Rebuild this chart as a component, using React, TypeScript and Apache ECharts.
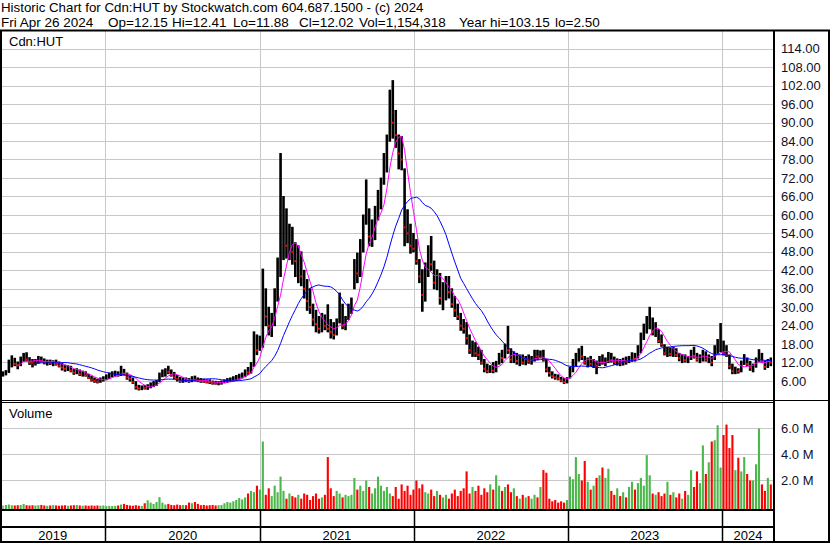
import React, { useEffect, useRef } from "react";
import * as echarts from "echarts";

// ---- Data (weekly bars, Fridays from 2019-05-03 to 2024-04-26) ----
const lows = [
  7.6, 8.0, 8.8, 10.6, 11.0, 10.0, 11.0, 12.4, 12.5, 11.4,
  10.6, 11.2, 11.8, 12.2, 11.6, 11.2, 11.4, 11.0, 11.2, 10.6,
  9.6, 9.2, 9.4, 9.0, 8.2, 8.4, 7.8, 7.6, 7.6, 6.8,
  6.0, 5.6, 5.4, 5.6, 6.0, 6.4, 6.8, 7.4, 7.6, 7.6,
  7.8, 8.0, 6.6, 6.0, 5.2, 3.4, 3.1, 3.2, 3.4, 3.3,
  3.8, 4.2, 4.6, 5.8, 7.4, 7.6, 8.4, 7.6, 6.8, 6.0,
  5.6, 5.6, 5.8, 5.6, 5.8, 6.0, 5.8, 5.6, 5.6, 5.4,
  5.2, 5.0, 5.0, 4.8, 5.0, 5.4, 5.6, 5.8, 6.0, 6.2,
  6.6, 7.0, 7.4, 8.2, 8.6, 10.8, 14.6, 16.0, 17.0, 24.0,
  21.0, 20.5, 24.0, 32.0, 40.0, 45.5, 46.0, 45.5, 44.0, 40.0,
  38.0, 37.0, 33.0, 29.0, 28.0, 24.0, 22.0, 21.6, 22.0, 22.7,
  22.0, 20.0, 19.7, 21.0, 24.9, 23.0, 22.7, 26.0, 28.0, 36.0,
  38.0, 40.0, 48.0, 57.0, 50.0, 49.8, 52.0, 58.4, 62.0, 70.0,
  74.0, 84.0, 85.0, 82.0, 75.0, 74.7, 50.0, 51.0, 47.6, 48.0,
  44.0, 38.0, 28.7, 32.0, 40.0, 42.0, 36.0, 35.7, 31.0, 29.2,
  32.4, 33.0, 30.0, 27.0, 26.0, 22.5, 21.6, 18.0, 15.0, 14.0,
  14.0, 13.0, 11.5, 9.0, 8.7, 8.8, 8.7, 9.0, 11.5, 12.0,
  13.5, 15.0, 12.0, 12.0, 11.5, 11.0, 11.5, 11.3, 11.8, 11.5,
  12.5, 13.0, 13.5, 12.5, 9.0, 7.6, 7.0, 6.6, 6.4, 5.8,
  5.2, 5.4, 7.0, 9.0, 11.0, 12.5, 13.0, 11.5, 10.6, 11.0,
  10.4, 8.4, 11.0, 11.5, 11.0, 12.0, 12.2, 11.5, 11.2, 11.0,
  11.2, 11.5, 12.0, 12.4, 12.5, 13.5, 15.2, 19.5, 21.6, 23.0,
  21.0, 20.5, 18.5, 17.3, 14.5, 14.0, 14.2, 14.0, 14.0, 12.6,
  12.0, 12.2, 12.0, 13.0, 13.5, 12.5, 12.0, 12.5, 12.5, 12.0,
  11.0, 13.0, 15.0, 15.5, 14.5, 14.0, 10.0, 8.4, 8.4, 8.6,
  9.0, 11.4, 11.0, 9.5, 9.0, 10.5, 12.4, 12.0, 9.8, 10.4,
  11.0,
];

const highs = [
  9.0, 9.4, 12.8, 14.2, 13.4, 12.2, 13.8, 15.0, 15.2, 13.6,
  13.0, 13.0, 14.0, 13.8, 13.2, 12.8, 12.8, 12.6, 12.8, 12.2,
  11.8, 11.2, 11.0, 10.8, 9.8, 10.0, 9.6, 9.2, 9.0, 8.2,
  7.6, 7.0, 6.6, 7.0, 7.4, 8.0, 8.6, 9.0, 9.2, 9.0,
  10.8, 9.8, 8.6, 7.6, 7.0, 5.8, 4.6, 4.4, 4.6, 4.8,
  5.4, 5.8, 6.2, 8.6, 9.6, 10.0, 10.8, 9.6, 8.8, 7.8,
  7.2, 7.0, 7.0, 6.8, 7.4, 7.6, 7.0, 6.8, 6.6, 6.4,
  6.4, 6.0, 5.9, 5.8, 6.0, 6.4, 6.8, 7.0, 7.4, 7.8,
  8.2, 8.6, 9.6, 10.4, 12.0, 22.0, 21.0, 20.6, 42.4, 36.0,
  30.0, 28.0, 36.0, 46.0, 80.0, 66.0, 62.0, 57.0, 56.0, 51.0,
  50.0, 48.0, 42.0, 39.0, 36.0, 31.0, 29.0, 27.0, 28.0, 27.5,
  30.8, 26.0, 25.0, 26.2, 34.6, 31.0, 27.0, 31.0, 33.0, 45.5,
  47.6, 52.0, 60.0, 71.4, 62.0, 58.4, 62.8, 68.0, 72.0, 80.0,
  86.0, 100.6, 103.7, 94.0, 86.0, 85.5, 75.0, 61.7, 57.0, 54.0,
  52.0, 45.5, 42.2, 44.4, 50.0, 53.0, 45.0, 42.2, 41.0, 38.0,
  40.0, 40.0, 36.0, 33.5, 31.0, 28.0, 26.0, 25.0, 21.0, 19.0,
  18.5, 17.0, 16.0, 13.0, 11.5, 11.0, 12.0, 12.4, 15.0, 16.0,
  18.0, 23.8, 16.5, 15.5, 15.0, 14.5, 14.5, 14.0, 14.5, 14.0,
  16.0, 16.0, 15.8, 16.0, 13.0, 10.5, 9.0, 8.2, 8.0, 7.2,
  6.8, 7.1, 10.5, 13.0, 15.0, 16.5, 17.3, 14.0, 13.5, 14.0,
  13.0, 12.5, 14.0, 14.5, 13.5, 15.3, 15.0, 13.8, 13.2, 13.0,
  13.4, 13.8, 14.0, 15.2, 15.0, 17.5, 21.6, 24.5, 27.0, 30.0,
  26.5, 25.0, 22.7, 21.0, 17.8, 17.0, 16.8, 17.0, 16.5, 15.0,
  14.6, 14.5, 14.0, 16.0, 17.0, 15.0, 14.5, 16.0, 15.5, 14.5,
  14.0, 17.5, 19.5, 24.7, 19.0, 17.5, 14.5, 11.5, 10.5, 10.0,
  12.5, 14.6, 13.5, 12.4, 11.5, 13.5, 16.2, 15.0, 12.5, 13.0,
  13.5,
];

const closes = [
  8.4, 9.0, 12.0, 12.5, 11.6, 11.2, 13.2, 13.6, 13.0, 12.0,
  11.8, 12.6, 13.2, 12.6, 12.0, 12.2, 11.8, 12.2, 11.6, 11.0,
  10.4, 10.0, 10.6, 9.4, 8.8, 9.2, 8.2, 8.6, 7.9, 7.0,
  6.4, 6.0, 5.8, 6.6, 6.8, 7.4, 7.8, 8.2, 8.6, 8.0,
  9.6, 8.4, 7.2, 6.8, 5.6, 4.0, 3.6, 3.9, 3.8, 4.4,
  4.8, 5.2, 5.8, 8.2, 8.4, 9.2, 9.0, 8.0, 7.2, 6.6,
  6.0, 6.4, 6.2, 6.0, 6.8, 6.4, 6.2, 6.0, 5.9, 5.7,
  5.6, 5.3, 5.2, 5.4, 5.6, 6.0, 6.2, 6.6, 6.8, 7.2,
  7.6, 8.0, 9.2, 8.8, 11.2, 18.0, 16.0, 19.0, 30.0, 27.0,
  24.0, 25.5, 33.0, 42.0, 52.0, 58.0, 50.0, 52.0, 48.0, 45.0,
  47.0, 40.0, 36.0, 32.0, 30.0, 26.0, 24.5, 23.0, 25.0, 24.0,
  23.0, 22.0, 21.0, 25.0, 30.0, 24.0, 25.0, 29.0, 32.0, 43.0,
  41.0, 50.0, 58.0, 60.0, 53.0, 55.0, 60.0, 66.0, 70.0, 76.0,
  84.0, 96.0, 90.0, 86.0, 80.0, 78.0, 56.0, 54.0, 50.0, 49.0,
  45.0, 40.0, 34.0, 40.0, 46.0, 44.0, 38.0, 40.0, 33.0, 35.0,
  38.0, 35.0, 31.0, 29.0, 27.0, 24.0, 23.0, 20.0, 16.0, 17.0,
  15.0, 14.5, 12.0, 10.0, 9.2, 10.2, 9.4, 12.0, 14.0, 13.5,
  17.0, 16.0, 13.0, 14.5, 12.5, 13.5, 12.0, 13.5, 12.4, 13.0,
  15.0, 14.0, 14.8, 13.0, 9.8, 8.6, 7.6, 7.2, 6.8, 6.2,
  5.6, 6.6, 9.8, 11.8, 13.0, 15.0, 14.0, 12.0, 12.8, 11.6,
  12.0, 11.0, 13.0, 12.0, 12.8, 14.0, 12.8, 12.2, 12.6, 11.8,
  12.8, 12.4, 13.6, 14.0, 13.2, 17.0, 20.0, 23.5, 25.0, 26.0,
  22.0, 23.0, 19.0, 18.0, 15.0, 16.0, 14.8, 15.6, 14.4, 13.4,
  14.0, 12.8, 13.5, 15.0, 14.2, 13.0, 13.8, 15.0, 13.0, 13.4,
  12.0, 17.0, 17.5, 18.0, 15.0, 14.5, 10.8, 9.2, 9.6, 9.2,
  12.0, 13.0, 11.6, 10.4, 10.6, 13.0, 14.5, 12.5, 10.6, 12.6,
  12.02,
];

// representative daily volume of each week, in millions of shares
const volumesM = [
  0.08, 0.12, 0.15, 0.10, 0.08, 0.10, 0.12, 0.20, 0.10, 0.08,
  0.10, 0.08, 0.10, 0.12, 0.08, 0.06, 0.08, 0.10, 0.08, 0.06,
  0.08, 0.10, 0.06, 0.08, 0.10, 0.12, 0.08, 0.06, 0.08, 0.06,
  0.08, 0.06, 0.08, 0.06, 0.08, 0.03, 0.05, 0.04, 0.05, 0.08,
  0.15, 0.20, 0.12, 0.08, 0.06, 0.10, 0.06, 0.05, 0.25, 0.48,
  0.30, 0.20, 0.35, 0.72, 0.30, 0.15, 0.20, 0.12, 0.10, 0.15,
  0.10, 0.12, 0.10, 0.30, 0.25, 0.35, 0.20, 0.10, 0.12, 0.08,
  0.10, 0.12, 0.08, 0.10, 0.12, 0.25, 0.35, 0.30, 0.40, 0.50,
  0.65, 0.55, 0.70, 1.00, 1.20, 1.10, 1.60, 1.30, 5.00, 0.90,
  1.40, 0.80, 1.60, 1.10, 2.30, 1.20, 0.60, 1.00, 0.80, 0.70,
  0.90, 0.60, 1.00, 0.90, 0.50, 0.80, 1.00, 0.60, 0.70, 0.90,
  3.80, 1.40, 0.80, 1.20, 1.00, 0.70, 0.90, 0.80, 0.90, 2.20,
  1.30, 1.60, 1.20, 2.00, 1.50, 1.00, 1.40, 2.30, 1.60, 1.20,
  1.50, 1.00, 0.80, 1.50, 0.60, 1.70, 1.20, 1.60, 0.90, 1.30,
  2.00, 1.40, 1.70, 1.10, 1.00, 1.30, 0.80, 1.20, 0.90, 0.70,
  0.90, 0.60, 1.00, 1.30, 0.80, 1.20, 1.40, 2.70, 1.00, 1.50,
  1.20, 1.60, 0.90, 1.40, 1.10, 1.70, 1.30, 2.40, 1.60, 1.20,
  1.50, 1.70, 1.10, 1.40, 0.80, 0.60, 0.90, 0.70, 0.80, 0.60,
  0.90, 0.70, 1.50, 2.80, 2.60, 0.60, 0.40, 0.50, 0.30, 0.40,
  0.30, 0.50, 2.30, 2.10, 3.80, 2.50, 2.00, 3.50, 1.90, 1.30,
  1.60, 2.20, 2.40, 3.00, 2.20, 2.90, 1.20, 0.90, 1.40, 0.80,
  1.10, 0.70, 1.50, 1.90, 1.30, 1.80, 2.20, 1.60, 3.95, 2.40,
  1.00, 0.90, 1.10, 0.80, 1.00, 1.90, 0.90, 1.10, 0.70, 1.00,
  0.60, 1.20, 0.90, 2.80, 1.50, 2.70, 1.80, 4.70, 2.50, 3.40,
  5.00, 5.10, 6.25, 3.00, 5.50, 6.30, 4.50, 5.50, 2.80, 3.75,
  2.70, 3.80, 2.50, 2.00, 2.00, 3.25, 6.00, 1.70, 1.20, 2.20,
  1.70,
];

const years = [2019, 2020, 2021, 2022, 2023, 2024];
const PRICE_MAX = 120;
const PRICE_STEP = 6;
const VOL_MAX = 8;
const VOL_STEP = 2;
const SHORT_MA = 6; // weeks (~30 trading days)
const LONG_MA = 20; // weeks (~100 trading days)
const LONG_MA_FIRST = 10; // first bar at which the long average is drawn

const FIRST_WEEK = Date.UTC(2019, 4, 3);
const VIEW_START = Date.UTC(2019, 3, 26);
const VIEW_END = Date.UTC(2024, 4, 3, 14);
const WEEK_MS = 7 * 864e5;

const TITLE1 = "Historic Chart for Cdn:HUT by Stockwatch.com 604.687.1500 - (c) 2024";
const TITLE2_PARTS: [string, number][] = [
  ["Fri Apr 26 2024", 1],
  ["Op=12.15", 108],
  ["Hi=12.41", 172],
  ["Lo=11.88", 233],
  ["Cl=12.02", 299],
  ["Vol=1,154,318", 359],
  ["Year hi=103.15", 459],
  ["lo=2.50", 555],
];

const FONT = "'Liberation Sans', Arial, sans-serif";

function movingAverage(values: number[], n: number, first: number) {
  const out: (number | null)[] = [];
  for (let i = 0; i < values.length; i++) {
    if (i < first) { out.push(null); continue; }
    const from = Math.max(0, i - n + 1);
    let s = 0;
    for (let k = from; k <= i; k++) s += values[k];
    out.push(s / (i - from + 1));
  }
  return out;
}

export default function App() {
  const ref = useRef<HTMLDivElement>(null);

  useEffect(() => {
    if (!ref.current) return;
    const chart = echarts.init(ref.current, undefined, { renderer: "svg" });

    const t = closes.map((_, i) => FIRST_WEEK + i * WEEK_MS);
    const dir = closes.map((c, i) => (i === 0 ? 0 : c > closes[i - 1] ? 1 : c < closes[i - 1] ? -1 : 0));

    const priceData = closes.map((c, i) => [t[i], lows[i], highs[i], c, dir[i]]);
    const volData = volumesM.map((v, i) => [t[i], v, dir[i]]);
    const maS = movingAverage(closes, SHORT_MA, SHORT_MA - 1).map((v, i) => [t[i], v]).filter((p) => p[1] !== null);
    const maL = movingAverage(closes, LONG_MA, LONG_MA_FIRST).map((v, i) => [t[i], v]).filter((p) => p[1] !== null);
    const yearBounds = years.slice(1).map((y) => [Date.UTC(y, 0, 1), 0]);
    const yearData = years.map((y) => {
      const a = Math.max(Date.UTC(y, 0, 1), VIEW_START);
      const b = Math.min(Date.UTC(y + 1, 0, 1), VIEW_END);
      return [(a + b) / 2, 0.2, y];
    });

    const xAxisFor = (g: number) => ({
      type: "value",
      gridIndex: g,
      min: VIEW_START,
      max: VIEW_END,
      axisLine: { show: false },
      axisTick: { show: false },
      axisLabel: { show: false },
      splitLine: { show: false },
    });

    const boundarySeries = (g: number, color: string, width: number) => ({
      type: "custom",
      xAxisIndex: g,
      yAxisIndex: g,
      z: 1,
      silent: true,
      encode: { x: 0 },
      data: yearBounds,
      renderItem: (params: any, api: any) => {
        const cs = params.coordSys;
        const p = api.coord([api.value(0), 0]);
        const x = Math.round(p[0]) + 0.5;
        return {
          type: "line",
          shape: { x1: x, y1: cs.y, x2: x, y2: cs.y + cs.height + (g === 1 ? 3 : 0) },
          style: { stroke: color, lineWidth: width },
        };
      },
    });

    const frame = (x: number, y: number, w: number, h: number) => ({
      type: "rect",
      z: 100,
      silent: true,
      shape: { x, y, width: w, height: h },
      style: { fill: "#000" },
    });
    const text = (s: string, x: number, y: number, size: number) => ({
      type: "text",
      z: 100,
      silent: true,
      x,
      y,
      style: { text: s, font: `${size}px ${FONT}`, fill: "#000", verticalAlign: "middle", align: "left" },
    });

    const option: any = {
      animation: false,
      backgroundColor: "#ffffff",
      grid: [
        { left: 0, right: 56, top: 30.5, height: 369 },
        { left: 0, right: 56, top: 402.5, height: 104 },
        { left: 0, right: 56, top: 511, height: 30 },
      ],
      xAxis: [xAxisFor(0), xAxisFor(1), xAxisFor(2)],
      yAxis: [
        {
          type: "value",
          gridIndex: 0,
          position: "right",
          min: 0,
          max: PRICE_MAX,
          interval: PRICE_STEP,
          axisLine: { show: false },
          axisTick: { show: false },
          splitLine: { show: true, showMinLine: false, showMaxLine: false, lineStyle: { color: "#c8c8c8", width: 1 } },
          axisLabel: {
            margin: 7,
            fontSize: 13,
            fontFamily: FONT,
            color: "#10102a",
            formatter: (v: number) => (v <= 0 || v >= PRICE_MAX ? "" : v.toFixed(2)),
          },
        },
        {
          type: "value",
          gridIndex: 1,
          position: "right",
          min: 0,
          max: VOL_MAX,
          interval: VOL_STEP,
          axisLine: { show: false },
          axisTick: { show: false },
          splitLine: { show: true, showMinLine: false, showMaxLine: false, lineStyle: { color: "#c8c8c8", width: 1 } },
          axisLabel: {
            margin: 7,
            fontSize: 13,
            fontFamily: FONT,
            color: "#10102a",
            formatter: (v: number) => (v <= 0 || v >= VOL_MAX ? "" : v.toFixed(1) + " M"),
          },
        },
        { type: "value", gridIndex: 2, min: 0, max: 1, show: false },
      ],
      series: [
        boundarySeries(0, "#c8c8c8", 1),
        boundarySeries(1, "#c8c8c8", 1),
        boundarySeries(2, "#000000", 1.5),
        {
          type: "custom",
          name: "price",
          xAxisIndex: 0,
          yAxisIndex: 0,
          z: 3,
          encode: { x: 0, y: [1, 2, 3] },
          data: priceData,
          renderItem: (params: any, api: any) => {
            const x = api.value(0);
            const lo = api.coord([x, api.value(1)]);
            const hi = api.coord([x, api.value(2)]);
            const cl = api.coord([x, api.value(3)]);
            const children: any[] = [
              {
                type: "line",
                shape: { x1: lo[0], y1: lo[1] + 0.5, x2: hi[0], y2: hi[1] - 0.5 },
                style: { stroke: "#000", lineWidth: 2.6 },
              },
            ];
            if (api.value(4) < 0) {
              children.push({
                type: "rect",
                shape: { x: cl[0] - 1, y: cl[1] - 1, width: 2, height: 2 },
                style: { fill: "#ff0000" },
              });
            }
            return { type: "group", children };
          },
        },
        {
          type: "line",
          name: "MA short",
          xAxisIndex: 0,
          yAxisIndex: 0,
          z: 4,
          data: maS,
          showSymbol: false,
          symbol: "none",
          lineStyle: { color: "#ff00ff", width: 1 },
        },
        {
          type: "line",
          name: "MA long",
          xAxisIndex: 0,
          yAxisIndex: 0,
          z: 4,
          data: maL,
          showSymbol: false,
          symbol: "none",
          lineStyle: { color: "#0000ff", width: 1 },
        },
        {
          type: "custom",
          name: "volume",
          xAxisIndex: 1,
          yAxisIndex: 1,
          z: 3,
          encode: { x: 0, y: 1 },
          data: volData,
          renderItem: (params: any, api: any) => {
            const x = api.value(0);
            const top = api.coord([x, api.value(1)]);
            const cs = params.coordSys;
            const bottom = cs.y + cs.height + 3;
            const w = api.size([WEEK_MS, 0])[0] * 0.72;
            const d = api.value(2);
            const color = d > 0 ? "#4cb84c" : d < 0 ? "#ff0000" : "#a8a8a8";
            return {
              type: "rect",
              shape: { x: top[0] - w / 2, y: top[1], width: w, height: bottom - top[1] },
              style: { fill: color },
            };
          },
        },
        {
          type: "custom",
          name: "years",
          xAxisIndex: 2,
          yAxisIndex: 2,
          z: 5,
          encode: { x: 0, y: 1 },
          data: yearData,
          renderItem: (params: any, api: any) => {
            const p = api.coord([api.value(0), api.value(1)]);
            return {
              type: "text",
              x: p[0],
              y: p[1],
              style: {
                text: String(api.value(2)),
                font: `13px ${FONT}`,
                fill: "#000",
                align: "center",
                verticalAlign: "middle",
              },
            };
          },
        },
      ],
      graphic: [
        text(TITLE1, 1, 7.5, 13.3),
        ...TITLE2_PARTS.map(([s, x]) => text(s, x, 22.5, 13.5)),
        text("Cdn:HUT", 9, 41.5, 13),
        text("Volume", 9, 413, 13),
        frame(0, 29.5, 830, 2),
        frame(0, 30, 2, 513),
        frame(828, 30, 2, 513),
        frame(773, 30, 2, 513),
        frame(0, 400, 830, 1),
        frame(0, 402, 774, 1),
        frame(0, 509, 774, 2),
        frame(0, 526, 774, 2),
        frame(0, 541, 830, 2),
      ],
    };

    chart.setOption(option);
    return () => chart.dispose();
  }, []);

  return (
    <div
      ref={ref}
      style={{ position: "fixed", left: 0, top: 0, width: 830, height: 543, background: "#fff" }}
    />
  );
}
